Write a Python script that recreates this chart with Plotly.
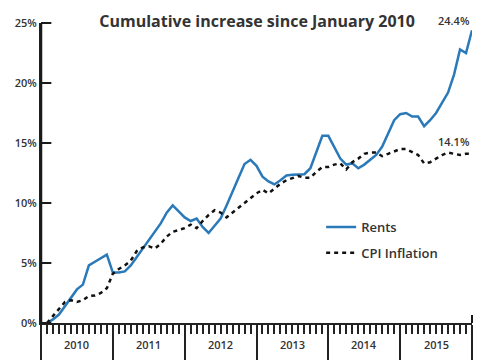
import plotly.graph_objects as go

months = list(range(1, 73))  # Jan 2010 .. Dec 2015 (month index)
rents = [0, 0.3, 0.7, 1.4, 2.1, 2.8, 3.2, 4.8, 5.1, 5.4, 5.7, 4.2,
         4.2, 4.3, 4.8, 5.5, 6.2, 6.9, 7.5, 8.3, 9.2, 9.8, 9.3, 8.8,
         8.5, 8.7, 8.0, 7.5, 8.1, 8.7, 9.8, 10.9, 12.1, 13.25, 13.6, 13.1,
         12.2, 11.8, 11.55, 11.9, 12.3, 12.35, 12.4, 12.4, 12.9, 14.3, 15.6, 15.6,
         14.6, 13.7, 13.2, 13.3, 12.9, 13.2, 13.6, 14.0, 14.7, 15.8, 16.9, 17.4,
         17.5, 17.2, 17.2, 16.4, 16.9, 17.5, 18.4, 19.2, 20.7, 22.8, 22.5, 24.4]
cpi = [0, 0.6, 1.2, 1.75, 1.9, 1.75, 1.9, 2.25, 2.3, 2.5, 2.9, 4.1,
       4.5, 4.8, 5.2, 6.0, 6.3, 6.4, 6.2, 6.6, 7.2, 7.6, 7.75, 7.9,
       8.2, 7.9, 8.5, 9.0, 9.4, 9.2, 8.8, 9.2, 9.6, 10.0, 10.4, 10.8,
       11.1, 10.8, 11.2, 11.6, 11.9, 12.1, 12.25, 12.1, 12.1, 12.6, 13.0, 13.0,
       13.2, 13.3, 12.8, 13.4, 13.7, 14.1, 14.2, 14.2, 13.9, 14.1, 14.3, 14.5,
       14.5, 14.25, 14.0, 13.3, 13.4, 13.7, 14.0, 14.2, 14.1, 14.0, 14.1, 14.1]
years = ["2010", "2011", "2012", "2013", "2014", "2015"]
year_centers = [6, 18, 30, 42, 54, 66]
year_bounds = [0, 12, 24, 36, 48, 60, 72]
month_ticks = list(range(0, 73))
y_ticks = [0, 5, 10, 15, 20, 25]
y_labels = [f"{v}%" for v in y_ticks]
Y_MAX = 25

FONT = "Open Sans"
DARK = "#222222"
TXT = "#333333"
BLUE = "#2a79b9"

fig = go.Figure()
fig.add_trace(go.Scatter(x=months, y=rents, mode="lines", name="Rents",
                         legendgroup="a",
                         line=dict(color=BLUE, width=2.5)))
fig.add_trace(go.Scatter(x=months, y=cpi, mode="lines", name="CPI Inflation",
                         legendgroup="b",
                         line=dict(color="#111111", width=2.5, dash="4px,4px")))

fig.add_annotation(x=months[-1], y=rents[-1], text=f"{rents[-1]}%",
                   xanchor="right", yanchor="bottom", yshift=0, showarrow=False,
                   font=dict(family=FONT, size=11, color=TXT, weight=600))
fig.add_annotation(x=months[-1], y=cpi[-1], text=f"{cpi[-1]}%",
                   xanchor="right", yanchor="bottom", yshift=3, showarrow=False,
                   font=dict(family=FONT, size=11, color=TXT, weight=600))

# year labels below the axis
for yr, c in zip(years, year_centers):
    fig.add_annotation(x=c, xref="x", y=-0.073, yref="paper", text=yr,
                       xanchor="center", yanchor="middle", showarrow=False,
                       font=dict(family=FONT, size=11, color=TXT, weight=600))

# vertical y-axis line and its inward ticks (drawn explicitly)
fig.add_shape(type="line", xref="paper", yref="paper", x0=0, x1=0, y0=0, y1=1,
              layer="above", line=dict(color="#1a1a1a", width=2.5))
for v in y_ticks:
    fig.add_shape(type="line", xref="paper", yref="y domain",
                  x0=0, x1=0.024, y0=v / Y_MAX, y1=v / Y_MAX,
                  layer="above", line=dict(color="#1a1a1a", width=2))
# small upward end tick at the right end of the x axis
fig.add_shape(type="line", xref="paper", yref="y domain", x0=1, x1=1, y0=0, y1=0.027,
              layer="above", line=dict(color="#1a1a1a", width=2))

fig.update_layout(
    width=485, height=360,
    margin=dict(l=41, r=13, t=23, b=37, autoexpand=False),
    paper_bgcolor="white", plot_bgcolor="white",
    title=dict(text="Cumulative increase since January 2010",
               x=0.53, xanchor="center", y=0.94, yanchor="middle",
               font=dict(family=FONT, size=16, color=TXT, weight=700)),
    legend=dict(x=0.65, xanchor="left", y=0.37, yanchor="top",
                font=dict(family=FONT, size=13, color=TXT, weight=600),
                traceorder="grouped", tracegroupgap=6,
                bgcolor="rgba(0,0,0,0)", itemwidth=30),
    xaxis=dict(range=[0, 72], showline=True, linecolor=DARK, linewidth=2,
               showgrid=False, zeroline=False, automargin=False,
               tickmode="array", tickvals=year_bounds,
               ticks="outside", ticklen=37, tickwidth=2, tickcolor=DARK,
               showticklabels=False,
               minor=dict(tickmode="array", tickvals=month_ticks, ticks="outside",
                          ticklen=9, tickwidth=1.5, tickcolor=DARK, showgrid=False)),
    yaxis=dict(range=[0, Y_MAX], showline=True, linecolor=DARK, linewidth=2,
               showgrid=False, zeroline=False, automargin=False,
               tickmode="array", tickvals=y_ticks, ticktext=y_labels,
               ticks="inside", ticklen=10, tickwidth=2, tickcolor=DARK,
               tickfont=dict(family=FONT, size=11, color=TXT, weight=600)),
    showlegend=True,
)

fig.write_html("out.html", config={"displayModeBar": False},
               post_script="document.body.style.margin='0';document.body.style.padding='0';")
